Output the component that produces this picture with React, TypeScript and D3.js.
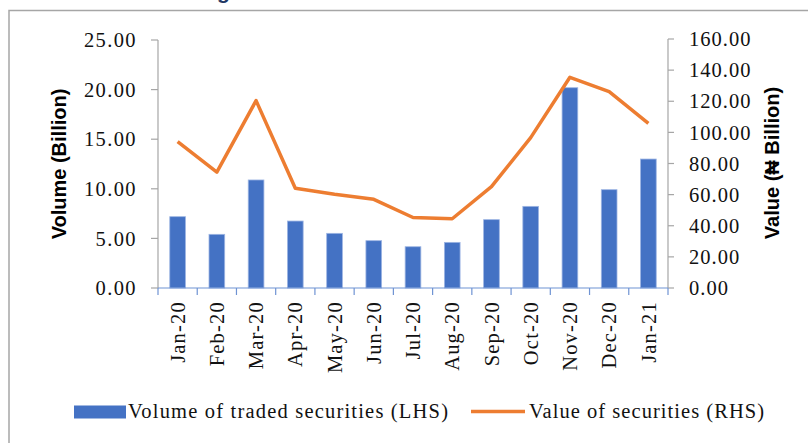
import React from "react";
import * as d3 from "d3";

const months = ["Jan-20","Feb-20","Mar-20","Apr-20","May-20","Jun-20","Jul-20","Aug-20","Sep-20","Oct-20","Nov-20","Dec-20","Jan-21"];
const volume = [7.19, 5.41, 10.89, 6.75, 5.51, 4.77, 4.16, 4.6, 6.89, 8.23, 20.19, 9.91, 13.0];
const value = [94.0, 74.4, 120.4, 64.1, 60.2, 57.0, 45.3, 44.5, 65.1, 96.6, 135.4, 126.2, 105.8];
const leftTicks = [0, 5, 10, 15, 20, 25];
const rightTicks = [0, 20, 40, 60, 80, 100, 120, 140, 160];
const legendLabels = ["Volume of traded securities (LHS)", "Value of securities (RHS)"];
const leftTitle = "Volume (Billion)";
const rightTitle = "Value (\u20A6 Billion)";

const W = 808, H = 443;
const BLUE = "#4472C4";
const ORANGE = "#ED7D31";
const GRAY = "#A6A6A6";
const SERIF = "'Liberation Serif', 'Times New Roman', serif";
const SANS = "'Liberation Sans', Arial, sans-serif";

export default function App() {
  const x = d3.scaleBand<string>().domain(months).range([158, 668]).paddingInner(0).paddingOuter(0);
  const yL = d3.scaleLinear().domain([0, 25]).range([288, 40]);
  const yR = d3.scaleLinear().domain([0, 160]).range([288, 39]);
  const bw = x.bandwidth();
  const barW = bw * 0.4;
  const line = d3.line<number>()
    .x((_, i) => (x(months[i]) as number) + bw / 2)
    .y((d) => yR(d));

  return (
    <svg width={W} height={H} style={{ position: "absolute", left: 0, top: 0, background: "#fff" }}>
      {/* frame */}
      <path d={`M9,${H} V10.5 H${W}`} fill="none" stroke={GRAY} strokeWidth={1.5} />
      {/* cut-off title */}
      <text x={217} y={-1.5} fontFamily={SANS} fontWeight="bold" fontSize={21} fill="#1F3864">g</text>

      {/* bars */}
      {volume.map((v, i) => (
        <rect key={i} x={(x(months[i]) as number) + (bw - barW) / 2} y={yL(v)} width={barW}
          height={yL(0) - yL(v)} fill={BLUE} stroke="#9DB5E3" strokeWidth={0.8} />
      ))}

      {/* left axis */}
      <line x1={158} x2={158} y1={yL(25)} y2={yL(0)} stroke={GRAY} strokeWidth={1.2} />
      {leftTicks.map((t) => (
        <g key={t}>
          <line x1={151} x2={158} y1={yL(t)} y2={yL(t)} stroke={GRAY} strokeWidth={1.2} />
          <text x={137} y={yL(t)} dy="0.35em" textAnchor="end" fontFamily={SERIF} fontSize={20.5}
            letterSpacing={1.4} fill="#111">{t.toFixed(2)}</text>
        </g>
      ))}

      {/* right axis */}
      <line x1={668} x2={668} y1={yR(160)} y2={yR(0)} stroke={GRAY} strokeWidth={1.2} />
      {rightTicks.map((t) => (
        <g key={t}>
          <line x1={668} x2={674} y1={yR(t)} y2={yR(t)} stroke={GRAY} strokeWidth={1.2} />
          <text x={689} y={yR(t)} dy="0.35em" textAnchor="start" fontFamily={SERIF} fontSize={20.5}
            letterSpacing={1.0} fill="#111">{t.toFixed(2)}</text>
        </g>
      ))}

      {/* x axis */}
      <line x1={158} x2={668} y1={288} y2={288} stroke="#6F93D3" strokeWidth={1.2} />
      {months.concat(["end"]).map((m, i) => {
        const xx = i < months.length ? (x(m) as number) : 668;
        return <line key={i} x1={xx} x2={xx} y1={288} y2={295} stroke="#6F93D3" strokeWidth={1.2} />;
      })}
      {months.map((m) => {
        const cx = (x(m) as number) + bw / 2;
        return (
          <text key={m} transform={`translate(${cx},301) rotate(-90)`} dy="0.35em" textAnchor="end"
            fontFamily={SERIF} fontSize={20.5} letterSpacing={1.2} fill="#111">{m}</text>
        );
      })}

      {/* line */}
      <path d={line(value) as string} fill="none" stroke={ORANGE} strokeWidth={3.5} strokeLinejoin="round" />

      {/* axis titles */}
      <text transform="translate(59,164) rotate(-90)" textAnchor="middle" dy="0.35em" fontFamily={SANS}
        fontWeight="bold" fontSize={20} fill="#000">{leftTitle}</text>
      <text transform="translate(772,163) rotate(-90)" textAnchor="middle" dy="0.35em" fontFamily={SANS}
        fontWeight="bold" fontSize={20} fill="#000">{rightTitle}</text>

      {/* legend */}
      <rect x={74} y={405.5} width={52} height={13} fill={BLUE} />
      <text x={128} y={418} fontFamily={SERIF} fontSize={20.5} textLength={320} lengthAdjust="spacing" fill="#111">{legendLabels[0]}</text>
      <line x1={471} x2={525} y1={411.5} y2={411.5} stroke={ORANGE} strokeWidth={3.5} />
      <text x={529} y={418} fontFamily={SERIF} fontSize={20.5} textLength={235} lengthAdjust="spacing" fill="#111">{legendLabels[1]}</text>
    </svg>
  );
}
